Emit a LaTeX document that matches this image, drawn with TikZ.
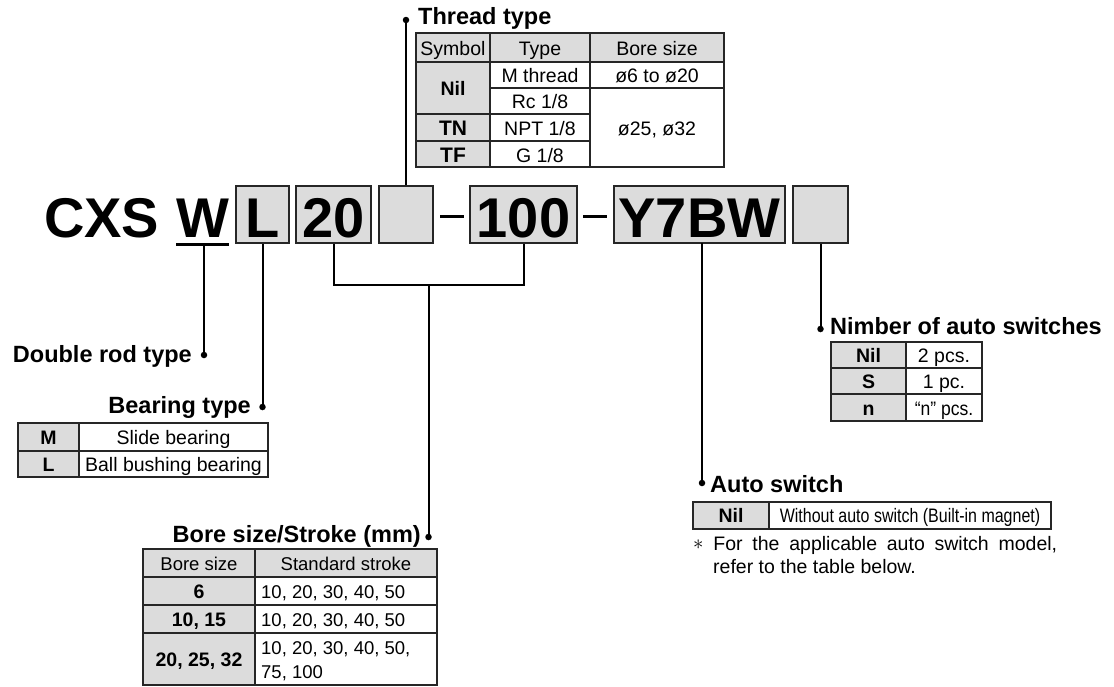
\documentclass[tikz,border=0pt]{standalone}
\usepackage{fontspec}
\setmainfont{Liberation Sans}
\definecolor{cellgray}{HTML}{DCDCDC}
\definecolor{linegray}{HTML}{262626}
\begin{document}
\begin{tikzpicture}[x=1pt,y=-1pt,
  codebox/.style={draw=linegray, line width=2pt, fill=cellgray, inner sep=0pt, minimum height=57pt},
  codetxt/.style={font=\fontsize{56}{60}\selectfont\bfseries, inner sep=0pt, anchor=base},
  lead/.style={line width=2pt, draw=black},
  leaddot/.style={circle, fill=black, inner sep=0pt, minimum size=6.5pt},
  ttl/.style={font=\fontsize{23.5}{26}\selectfont\bfseries, inner sep=0pt},
  txt/.style={font=\fontsize{19.5}{24}\selectfont, inner sep=0pt, anchor=base},
  btxt/.style={font=\fontsize{19.5}{24}\selectfont\bfseries, inner sep=0pt, anchor=base},
  stxt/.style={font=\fontsize{18.5}{24}\selectfont, inner sep=0pt, anchor=base},
  ntxt/.style={font=\fontsize{19.5}{24}\selectfont, inner sep=0pt, anchor=base west},
  grid/.style={line width=1.2pt, draw=linegray},
  topline/.style={line width=2.4pt, draw=linegray},
]
\useasboundingbox (0,0) rectangle (1114,686);

% ---------------- code line ----------------
\node[codetxt, anchor=base west] (cxs) at (44,237) {CXS};
\node[codetxt] (tw) at (202.5,237) {W};
\coordinate (wuL) at (176,244.5);
\coordinate (wuR) at (229,244.5);
\coordinate (wuM) at (204,244.5);
\draw[line width=2.2pt] (wuL) -- (wuR);

\node[codebox, minimum width=53pt] (bL) at (262.5,214.5) {};
\node[codetxt] (tL) at (262.5,237) {L};
\node[codebox, minimum width=75pt] (b20) at (333.5,214.5) {};
\node[codetxt] (t20) at (333.5,237) {20};
\node[codebox, minimum width=54pt] (bE1) at (406,214.5) {};
\coordinate (d1a) at (440,216); \coordinate (d1b) at (464,216);
\draw[line width=3pt] (d1a) -- (d1b);
\node[codebox, minimum width=107pt] (b100) at (523.5,214.5) {};
\node[codetxt] (t100) at (523.5,237) {100};
\coordinate (d2a) at (583,216); \coordinate (d2b) at (607,216);
\draw[line width=3pt] (d2a) -- (d2b);
\node[codebox, minimum width=171pt] (bY) at (699.5,214.5) {};
\node[codetxt] (tY) at (699.5,237) {Y7BW};
\node[codebox, minimum width=55pt] (bE2) at (820.5,214.5) {};

% ---------------- leaders ----------------
\node[leaddot] (dW) at (204,355) {};
\draw[lead] (wuM) -- (dW.center);
\node[ttl, anchor=base east] (ttW) at (192,362) {Double rod type};
\node[leaddot] (dL) at (262.5,407) {};
\draw[lead] (bL.south) -- (dL.center);
\node[ttl, anchor=base east] (ttL) at (251,413) {Bearing type};
\coordinate (brk) at (428.5,285);
\draw[lead] (b20.south) -- (b20.south |- brk) -- (b100.south |- brk) -- (b100.south);
\node[leaddot] (dB) at (428.5,537) {};
\draw[lead] (brk) -- (dB.center);
\node[ttl, anchor=base east] (ttB) at (421,542) {Bore size/Stroke (mm)};
\node[leaddot] (dT) at (406,20) {};
\draw[lead] (bE1.north) -- (dT.center);
\node[ttl, anchor=base west] (ttT) at (418,24) {Thread type};
\coordinate (yS) at (702,243);
\node[leaddot] (dA) at (702,483) {};
\draw[lead] (yS) -- (dA.center);
\node[ttl, anchor=base west] (ttA) at (710,492) {Auto switch};
\node[leaddot] (dN) at (820.5,329) {};
\draw[lead] (bE2.south) -- (dN.center);
\node[ttl, anchor=base west] (ttN) at (830,334) {Nimber of auto switches};

% ---------------- Thread type table ----------------
\fill[cellgray] (416,33) rectangle (724,62);
\fill[cellgray] (416,62) rectangle (490,167);
\draw[grid] (416,33) rectangle (724,167);
\draw[topline] (416,33) -- (724,33);
\draw[grid] (490,33) -- (490,167);
\draw[grid] (590,33) -- (590,167);
\draw[grid] (416,62) -- (724,62);
\draw[grid] (490,88) -- (724,88);
\draw[grid] (416,114) -- (590,114);
\draw[grid] (416,141) -- (590,141);
\node[txt] (th1) at (453,55) {Symbol};
\node[txt] (th2) at (540,55) {Type};
\node[txt] (th3) at (657,55) {Bore size};
\node[btxt] (tnil) at (453,95.5) {Nil};
\node[txt] (tm) at (540,82.5) {M thread};
\node[txt] (tb1) at (657,82.5) {ø6 to ø20};
\node[txt] (trc) at (540,108.5) {Rc 1/8};
\node[btxt, font=\fontsize{21}{24}\selectfont\bfseries] (ttn) at (453,135.5) {TN};
\node[txt] (tnpt) at (540,135.5) {NPT 1/8};
\node[txt] (tb2) at (657,135.5) {ø25, ø32};
\node[btxt, font=\fontsize{21}{24}\selectfont\bfseries] (ttf) at (453,162) {TF};
\node[txt] (tg) at (540,162) {G 1/8};

% ---------------- Bearing type table ----------------
\fill[cellgray] (18,423) rectangle (79,477);
\draw[grid] (18,423) rectangle (268,477);
\draw[topline] (18,423) -- (268,423);
\draw[grid] (79,423) -- (79,477);
\draw[grid] (18,451) -- (268,451);
\node[btxt] (bm) at (48.5,444.5) {M};
\node[txt] (bms) at (173.5,444.5) {Slide bearing};
\node[btxt] (bl) at (48.5,471.5) {L};
\node[txt] (bls) at (173.5,471.5) {Ball bushing bearing};

% ---------------- Bore size / stroke table ----------------
\fill[cellgray] (143,549) rectangle (437,577);
\fill[cellgray] (143,577) rectangle (255,685);
\draw[grid] (143,549) rectangle (437,685);
\draw[topline] (143,549) -- (437,549);
\draw[grid] (255,549) -- (255,685);
\draw[grid] (143,577) -- (437,577);
\draw[grid] (143,605) -- (437,605);
\draw[grid] (143,633) -- (437,633);
\node[stxt] (sh1) at (199,570) {Bore size};
\node[stxt] (sh2) at (346,570) {Standard stroke};
\node[btxt] (s6) at (199,598.5) {6};
\node[stxt, anchor=base west] (s6r) at (261,598.5) {10, 20, 30, 40, 50};
\node[btxt] (s10) at (199,626.5) {10, 15};
\node[stxt, anchor=base west] (s10r) at (261,626.5) {10, 20, 30, 40, 50};
\node[btxt] (s20) at (199,666.5) {20, 25, 32};
\node[stxt, anchor=base west] (s20r) at (261,654) {10, 20, 30, 40, 50,};
\node[stxt, anchor=base west] (s20s) at (261,678) {75, 100};

% ---------------- Number of auto switches table ----------------
\fill[cellgray] (831,342) rectangle (906,421);
\draw[grid] (831,342) rectangle (982,421);
\draw[topline] (831,342) -- (982,342);
\draw[grid] (906,342) -- (906,421);
\draw[grid] (831,368) -- (982,368);
\draw[grid] (831,394) -- (982,394);
\node[btxt] (nn) at (868.5,362.5) {Nil};
\node[txt] (nnr) at (944,362.5) {2 pcs.};
\node[btxt] (ns) at (868.5,388.5) {S};
\node[txt] (nsr) at (944,388.5) {1 pc.};
\node[btxt] (nx) at (868.5,415) {n};
\node[txt] (nxr) at (944,415) {\scalebox{0.9}[1]{“n” pcs.}};

% ---------------- Auto switch table ----------------
\fill[cellgray] (693,502) rectangle (769,529);
\draw[grid] (693,502) rectangle (1051,529);
\draw[topline] (693,502) -- (1051,502);
\draw[grid] (769,502) -- (769,529);
\node[btxt] (an) at (731,522.5) {Nil};
\node[txt] (ant) at (910,522.5) {\scalebox{0.82}[1]{Without auto switch (Built-in magnet)}};
\node[ntxt] (note1) at (693,550) {\makebox[364pt][s]{\raisebox{1pt}{$\ast$}\ For the applicable auto switch model,}};
\node[ntxt] (note2) at (713,573) {refer to the table below.};
\end{tikzpicture}
\end{document}
